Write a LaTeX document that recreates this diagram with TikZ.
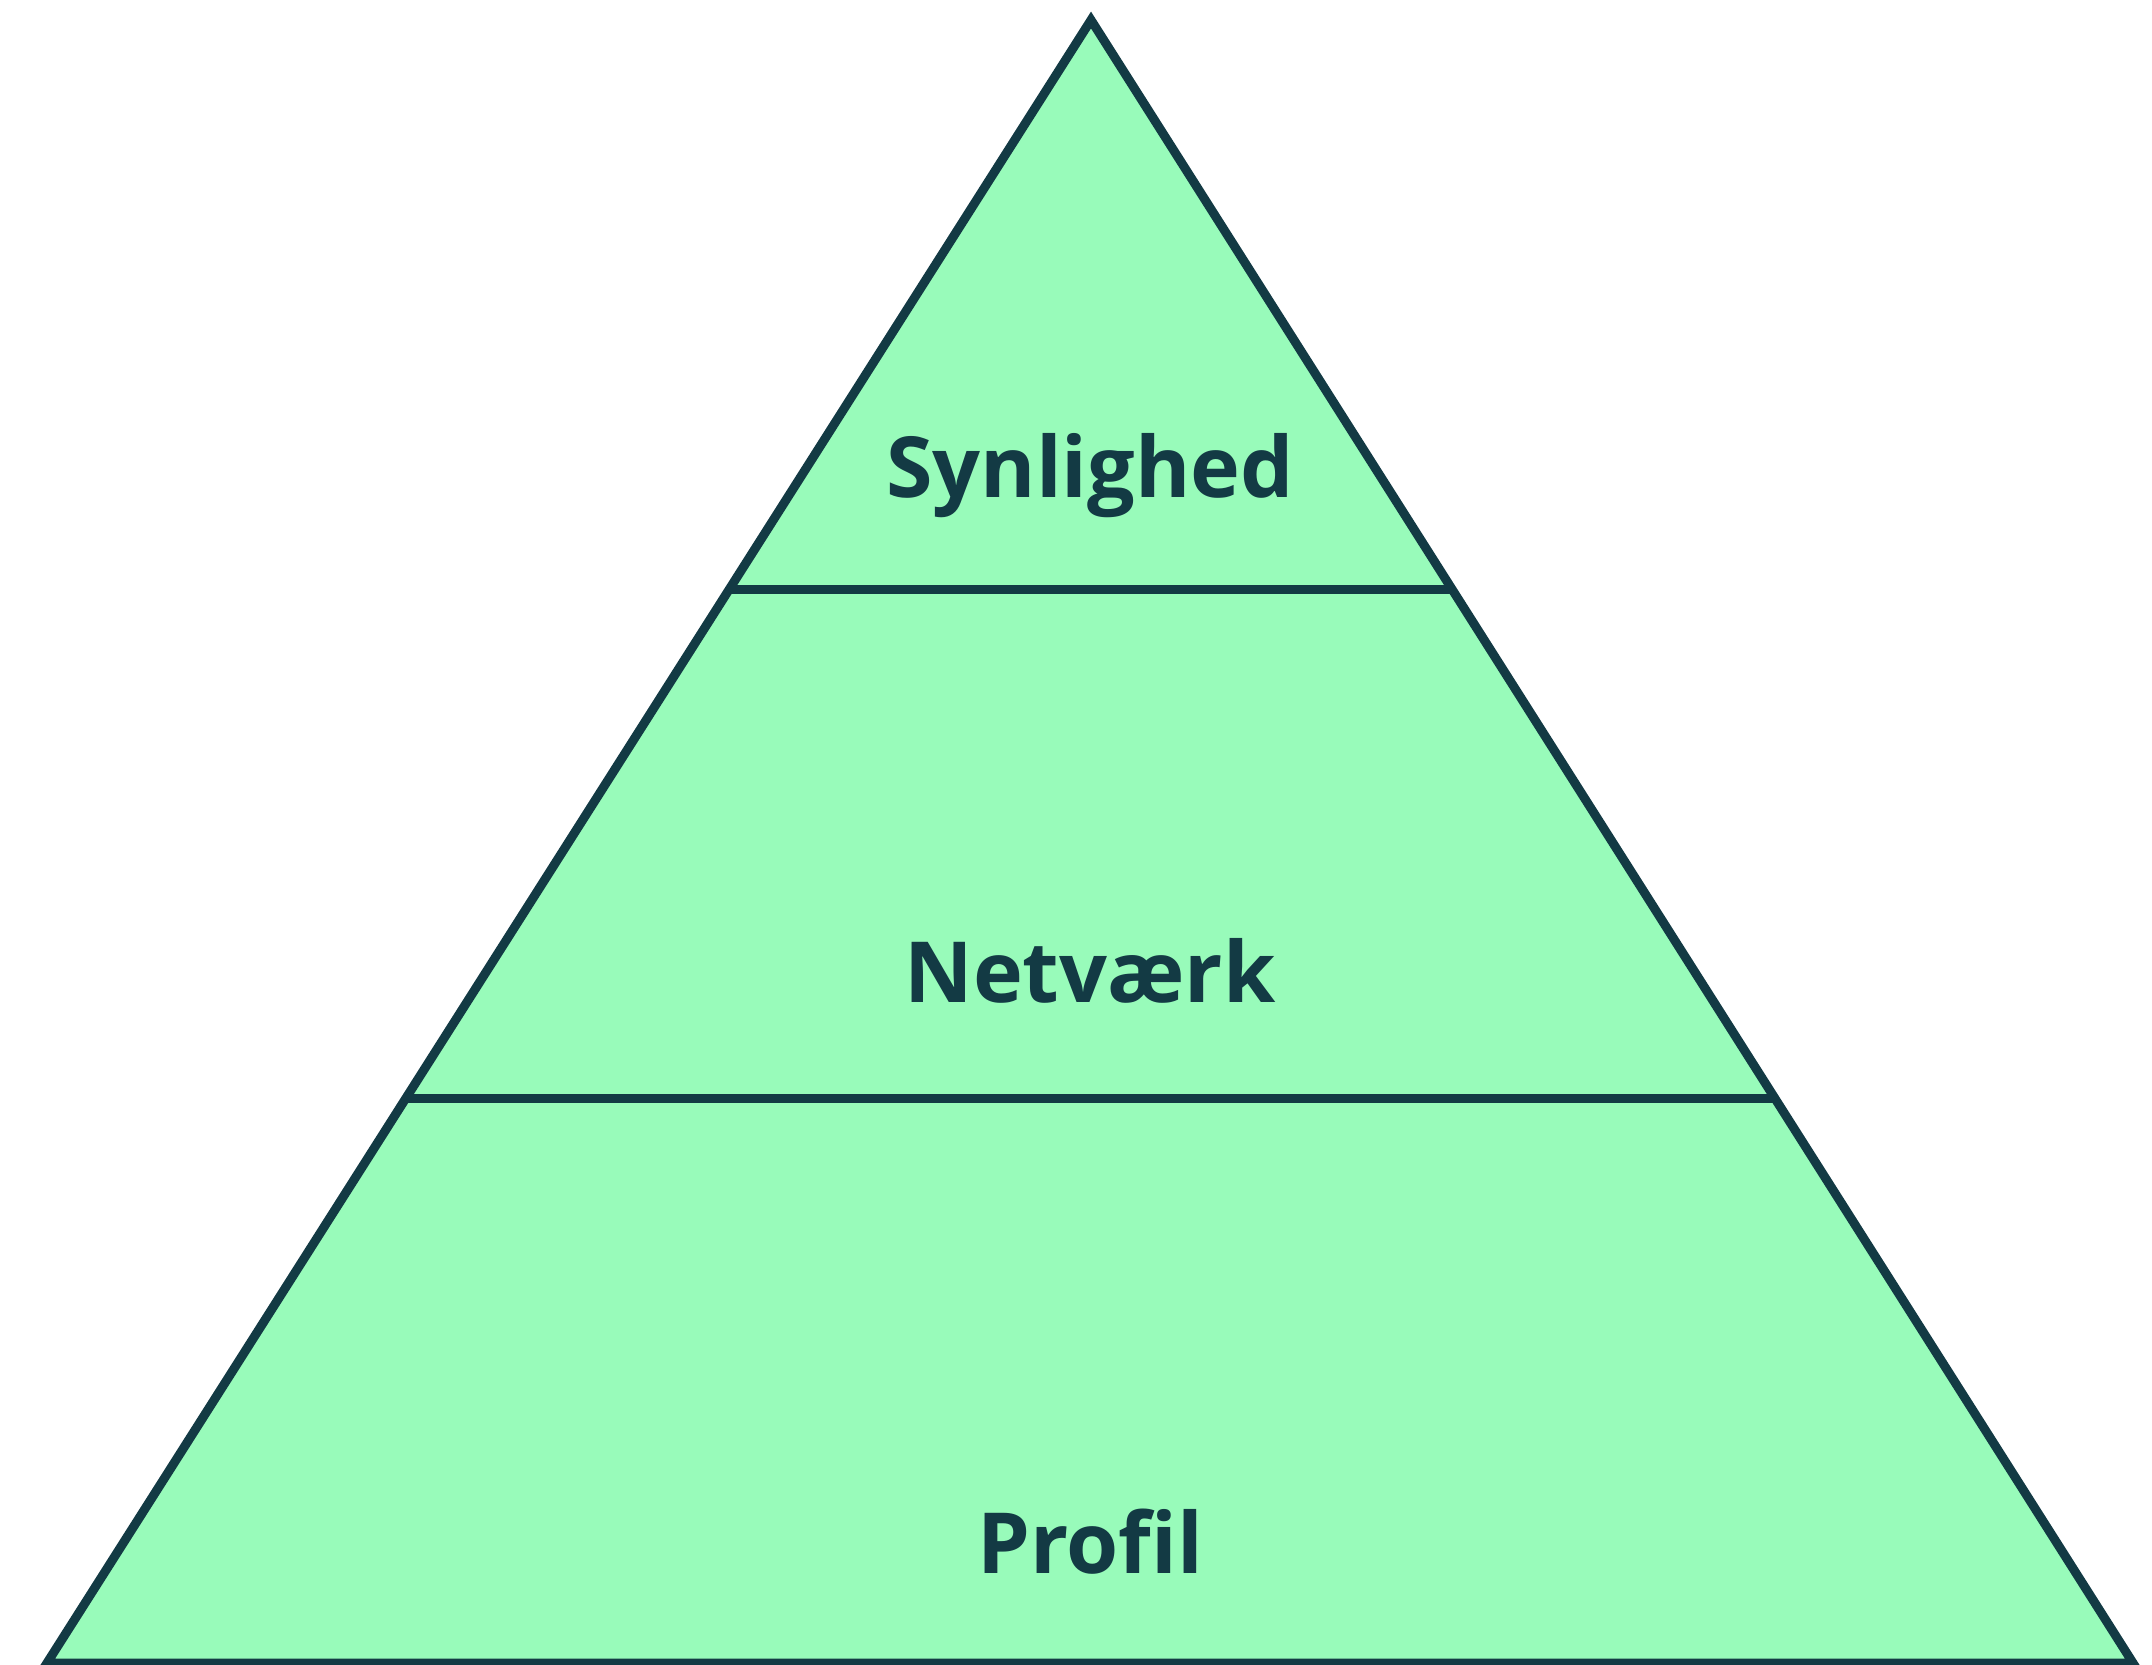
\documentclass[tikz,border=0pt]{standalone}
\usepackage{fontspec}
\setmainfont[Ligatures=NoCommon]{Open Sans}
\usetikzlibrary{calc}

\definecolor{layerfill}{HTML}{98FBBA}
\definecolor{edgeink}{HTML}{133A44}

\begin{document}
\begin{tikzpicture}[x=0.02cm,y=-0.02cm,
	layerline/.style={draw=edgeink,line width=0.18cm},
	layertext/.style={anchor=base,text=edgeink,font=\fontsize{48}{58}\selectfont\bfseries,inner sep=0pt}]
	\useasboundingbox (0,0) rectangle (2152,1665);

	\coordinate (top) at (1091,20);
	\coordinate (bl) at (47,1663);
	\coordinate (br) at (2133,1663);

	\coordinate (l1) at ($(top)!0.3469!(bl)$);
	\coordinate (r1) at ($(top)!0.3469!(br)$);
	\coordinate (l2) at ($(top)!0.6567!(bl)$);
	\coordinate (r2) at ($(top)!0.6567!(br)$);

	\filldraw[layerline,fill=layerfill,line join=miter] (top) -- (bl) -- (br) -- cycle;
	\draw[layerline] (l1) -- (r1);
	\draw[layerline] (l2) -- (r2);

	\node[layertext] (synlighed) at (1090,497)  {Synlighed};
	\node[layertext] (netvaerk)  at (1090,1002) {Netværk};
	\node[layertext] (profil)    at (1090,1573) {Profil};
\end{tikzpicture}
\end{document}
